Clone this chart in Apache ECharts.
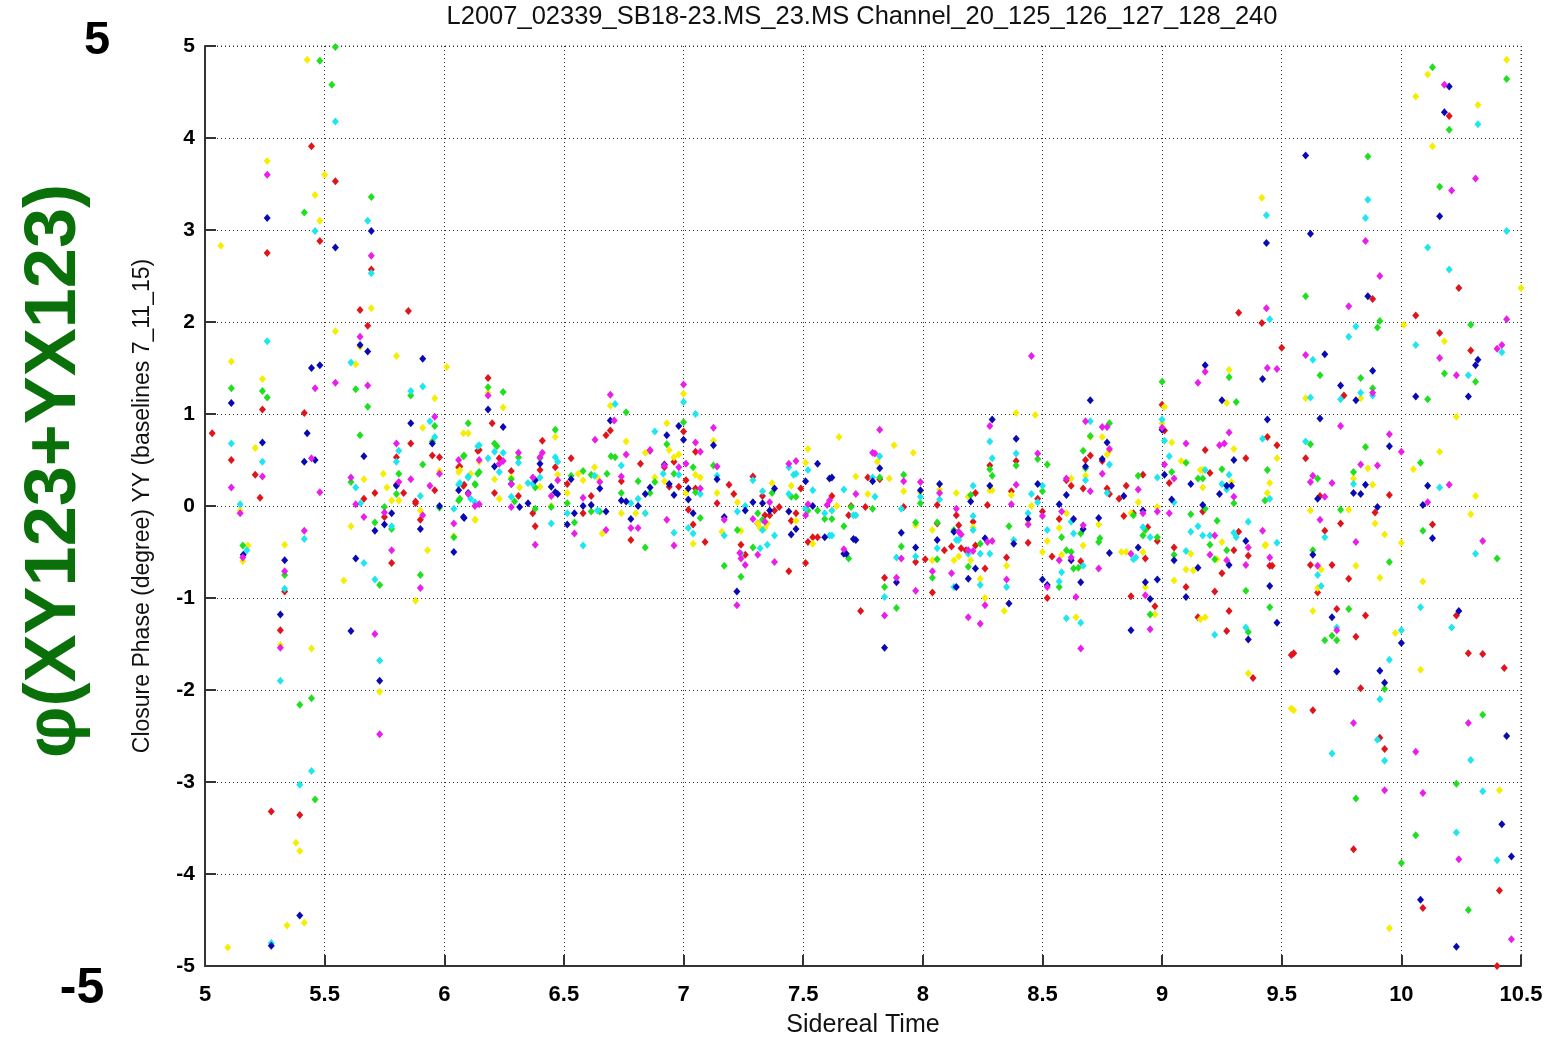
<!DOCTYPE html>
<html>
<head>
<meta charset="utf-8">
<script src="https://cdn.jsdelivr.net/npm/echarts@6/dist/echarts.min.js"></script>
<style>
html,body{margin:0;padding:0;background:#fff;overflow:hidden;}
#chart{width:1566px;height:1039px;}
</style>
</head>
<body>
<div id="chart"></div>
<script>
const chartTitle = "L2007_02339_SB18-23.MS_23.MS Channel_20_125_126_127_128_240";
const xAxisTitle = "Sidereal Time";
const yAxisTitle = "Closure Phase (degree) YY (baselines 7_11_15)";
const sideLabel = "\u03C6(XY123+YX123)";
const cornerTop = "5";
const cornerBottom = "-5";
const xRange = [5, 10.5, 0.5];
const yRange = [-5, 5, 1];

const redPts = [[5.03,0.79],[5.11,0.5],[5.21,0.34],[5.23,0.09],[5.24,1.05],[5.26,2.75],[5.277,-3.32],[5.315,-1.35],[5.333,-0.93],[5.396,-3.36],[5.415,1.01],[5.445,3.91],[5.48,2.88],[5.545,3.53],[5.648,2.13],[5.68,1.96],[5.695,2.57],[5.85,2.12],[5.664,0.08],[5.71,0.14],[5.8,0.23],[5.8,0.53],[5.86,0.68],[5.83,0.14],[5.88,0.03],[5.95,0.55],[5.98,0.53],[5.96,0.17],[5.75,-0.12],[5.88,0.05],[5.9,-0.15],[5.78,-0.62],[6.14,0.6],[6.06,0.42],[6.08,0.22],
[6.183,1.39],[6.2,0.9],[6.065,0.43],[6.083,0.23],[6.146,0.61],[6.21,0.14],[6.23,0.52],[6.28,0.38],[6.31,0.11],[6.41,0.71],[6.4,0.39],[6.37,-0.08],[6.38,-0.22],[6.464,0.42],[6.53,0.52],[6.514,0.24],[6.58,-0.08],[6.614,0.11],[6.676,0.77],[6.694,0.82],[6.74,0.27],[6.78,-0.37],[6.82,0.46],[6.86,0.6],[6.92,0.42],[6.94,0.21],[6.96,0.48],[6.98,0.21],[7.0,0.81],[7.01,0.28],[7.02,-0.04],[7.04,-0.2],[7.05,0.19],[7.05,0.59],[7.09,-0.39],[7.14,0.03],[7.19,0.23],[7.21,0.13],
[7.24,-0.42],[7.258,-0.53],[7.29,0.32],[7.31,-0.19],[7.34,-0.1],[7.36,-0.1],[7.38,-0.05],[7.4,-0.01],[7.33,0.11],[7.44,-0.71],[7.49,0.19],[7.45,-0.16],[7.47,-0.08],[7.52,-0.39],[7.54,-0.34],[7.56,-0.34],[7.51,-0.62],[7.62,0.11],[7.7,0],[7.69,-0.1],[7.82,0.29],[7.76,-0.01],[7.77,0.31],[7.92,-0.01],[7.84,-0.78],[7.74,-1.14],[7.97,-0.61],[8.01,-0.58],[8.06,0.01],[8.06,-0.19],[8.04,-0.94],[8.09,-0.48],[8.12,-0.44],[8.14,-0.1],[8.15,-0.21],[8.16,-0.46],[8.18,-0.48],[8.21,-0.17],[8.22,-0.43],[8.26,-0.68],[8.27,0.01],[8.28,0.44],[8.39,0.49],[8.37,0.16],[8.35,-0.56],[8.22,0.14],
[8.48,0.08],[8.5,-0.06],[8.44,-0.4],[8.54,-0.55],[8.52,-1.0],[8.57,-0.14],[8.66,-0.6],[8.6,0.28],[8.62,0.22],[8.67,0.19],[8.68,0.5],[8.7,0.55],[8.75,0.49],[8.77,0.19],[8.78,0.13],[8.84,-0.11],[8.82,0.08],[8.85,0.22],[8.88,-0.08],[8.92,0.34],[8.94,-0.23],[8.93,-0.57],[8.87,-0.98],[8.97,-1.09],[8.98,-0.38],[9.0,1.1],[9.01,0.82],[9.03,0.25],[9.05,-0.45],[9.1,-0.88],[9.15,-1.21],[9.18,0.61],[9.2,0.36],[9.17,-0.06],[9.22,-0.93],[9.25,-0.73],[9.3,-0.48],[9.28,-1.14],[9.27,-1.36],[9.35,0.52],[9.38,-1.87],[9.32,-0.28],[9.36,-0.54],[9.44,0.75],[9.48,0.66],[9.45,-0.65],[9.5,1.72],[9.32,2.1],
[10.2,4.24],[9.88,2.25],[10.24,2.37],[9.417,1.99],[10.06,2.07],[9.76,1.2],[10.16,1.88],[10.29,1.69],[9.6,0.52],[9.66,0.11],[9.95,0.12],
[9.89,-0.07],[9.78,-0.79],[9.746,-0.19],[9.68,-0.27],[9.62,-0.64],[9.71,-0.64],[9.65,-0.94],[9.46,-0.65],[10.13,-0.2],[9.73,-1.12],[9.85,-1.19],[9.81,-1.42],[9.54,-1.62],[9.55,-1.6],[9.83,-1.98],[10.23,-1.19],[10.28,-1.6],[10.34,-1.61],[10.43,-1.76],[9.63,-2.22],[9.91,-2.52],[9.93,-2.64],[9.8,-3.73],[10.41,-4.18],[10.09,-4.37],[10.4,-5.0]];

const yellowPts = [[5.066,2.83],[5.095,-4.8],[5.11,1.57],[5.147,-0.05],[5.158,-0.6],[5.18,-0.43],[5.21,0.63],[5.24,1.38],[5.26,3.75],[5.315,-1.51],[5.333,-0.42],[5.343,-4.56],[5.38,-3.66],[5.396,-3.75],[5.415,-4.53],[5.427,4.85],[5.445,-1.55],[5.46,3.38],[5.48,3.1],[5.5,3.6],[5.545,1.9],[5.58,-0.81],[5.61,-0.22],[5.63,1.54],[5.648,1.73],[5.664,0.29],[5.695,2.15],[5.745,0.35],[5.73,-2.02],[5.76,0.2],[5.78,0.06],[5.81,0.06],[5.8,1.63],[5.88,-1.03],[5.9,-0.05],[5.91,0.85],[5.93,-0.48],[5.96,1.17],[5.98,0.38],[6.01,1.51],[6.04,-0.33],[6.08,0.79],[6.1,0.79],[6.13,-0.15],[6.06,0.37],[6.11,0.35],
[6.065,0.39],[6.146,0.48],[6.128,-0.15],[6.183,1.23],[6.246,1.07],[6.21,0.29],[6.23,0.08],[6.28,0.31],[6.315,0.2],[6.4,0.21],[6.464,0.75],[6.474,0.34],[6.447,0.0],[6.514,0.14],[6.56,0.35],[6.58,0.28],[6.628,0.42],[6.614,0.01],[6.64,0.31],[6.66,-0.3],[6.694,1.09],[6.76,0.7],[6.74,-0.08],[6.8,-0.08],[6.84,0.58],[6.88,0.31],[6.84,-0.08],[6.93,0.9],[6.94,0.61],[6.92,0.27],[6.96,0.53],[6.98,0.56],[7.0,1.22],[7.01,0.14],[7.04,-0.41],[7.05,0.34],[7.07,0.31],[7.125,0.71],[7.14,0.14],[7.16,-0.28],[7.225,0.04],
[7.24,-0.27],[7.31,-0.19],[7.32,-0.24],[7.34,-0.24],[7.35,-0.19],[7.37,0.25],[7.45,0.22],[7.47,-0.16],[7.51,0.47],[7.52,0.62],[7.54,-0.41],[7.64,0],[7.62,-0.05],[7.72,0.32],[7.65,0.75],[7.88,0.66],[7.96,0.58],[7.81,0.48],[7.86,0.3],[7.77,0.13],[7.92,0.16],[7.97,-0.21],[7.99,0.15],[8.07,0.18],[8.14,0.14],[8.19,0.1],[8.04,-0.26],[8.04,-0.59],[8.13,-0.59],[8.15,-0.55],[8.2,-0.59],[8.21,-0.23],[8.24,-0.79],[8.26,-1.0],[8.28,0.17],[8.29,0.17],[8.39,1.01],[8.37,0.12],[8.35,-0.65],[8.34,-1.14],
[8.47,0.99],[8.454,0],[8.44,-0.19],[8.52,-0.38],[8.5,-0.5],[8.6,-0.08],[8.57,-0.24],[8.58,-0.53],[8.62,0.3],[8.68,0.33],[8.7,0.75],[8.735,-0.2],[8.75,0.75],[8.77,0.56],[8.78,0.6],[8.67,-0.43],[8.64,-1.21],[8.83,-0.5],[8.85,-0.5],[8.87,-0.08],[8.9,0.04],[8.92,-0.5],[8.93,-0.88],[8.97,-1.18],[8.98,-0.01],[9.01,1.08],[9.0,0.9],[9.04,0.69],[9.08,0.49],[9.05,-0.81],[9.1,-0.69],[9.12,-0.52],[9.13,-0.7],[9.16,-1.23],[9.18,-1.21],[9.16,0.39],[9.17,0.39],[9.17,0.2],[9.23,-0.58],[9.27,1.12],[9.28,1.48],[9.25,-0.39],[9.3,0.62],[9.29,0.26],[9.36,-1.82],[9.48,0.52],[9.45,0.25],[9.44,0.14],[9.43,-0.43],
[10.11,4.69],[10.06,4.45],[10.44,4.85],[10.32,4.36],[10.13,3.91],[9.417,3.35],[10.5,2.37],[10.01,1.97],[10.18,1.79],[9.83,1.17],[9.6,1.17],[10.23,0.97],[9.86,0.41],[9.8,0.3],[9.88,0.23],[10.05,0.4],[10.16,0.59],[10.31,0.11],[9.78,-0.04],[9.62,-0.05],
[9.89,-0.19],[9.93,-0.31],[10.0,-0.4],[9.91,-0.78],[9.81,-0.65],[9.665,-0.69],[9.65,-0.89],[9.433,-0.42],[10.29,-0.09],[10.09,-0.82],[9.63,-1.14],[9.975,-1.38],[10.08,-1.78],[9.54,-2.2],[9.55,-2.22],[10.41,-3.09],[9.95,-4.59]];

const greenPts = [[5.11,1.28],[5.158,-0.43],[5.24,1.25],[5.26,1.18],[5.333,-0.75],[5.396,-2.16],[5.415,3.19],[5.445,-2.09],[5.46,-3.19],[5.48,4.84],[5.53,4.58],[5.545,4.99],[5.61,0.26],[5.63,1.27],[5.648,0.77],[5.68,1.08],[5.695,3.36],[5.71,-0.18],[5.73,-0.86],[5.75,-0.01],[5.78,-0.25],[5.8,0.13],[5.81,0.35],[5.86,1.2],[5.9,-0.75],[5.91,0.45],[5.95,0.7],[5.96,0.87],[5.98,-0.02],[6.04,-0.34],[6.1,0.9],[6.08,0.54],[6.14,0.35],[6.13,0.23],[6.06,0.06],
[6.083,0.55],[6.065,0.08],[6.128,0.24],[6.146,0.37],[6.183,1.29],[6.246,1.24],[6.21,0.68],[6.22,0.65],[6.28,0.29],[6.294,0.05],[6.31,0.53],[6.38,0.2],[6.38,-0.03],[6.4,0.52],[6.464,0.83],[6.447,-0.01],[6.53,0.33],[6.514,0.03],[6.544,-0.18],[6.58,0.38],[6.614,0.34],[6.614,-0.06],[6.65,-0.06],[6.68,0.35],[6.697,0.54],[6.714,0.53],[6.76,1.02],[6.74,0.14],[6.81,0.27],[6.88,0.26],[6.86,0.14],[6.84,-0.45],[6.93,0.67],[6.96,0.35],[7.0,0.91],[7.04,0.42],[7.05,0.15],[7.07,-0.13],[7.125,0.44],[7.225,-0.26],
[7.17,-0.65],[7.24,-0.77],[7.31,-0.08],[7.29,-0.45],[7.33,-0.15],[7.37,0.14],[7.45,0.1],[7.47,0.1],[7.52,-0.05],[7.56,-0.05],[7.59,-0.14],[7.62,-0.14],[7.7,-0.01],[7.67,-0.22],[7.69,-0.57],[7.82,0.31],[7.79,-0.03],[7.92,0.34],[7.91,-0.44],[7.84,-0.88],[7.89,-1.11],[7.99,0.03],[7.97,-0.18],[8.06,-0.18],[8.04,-0.78],[8.06,-0.58],[8.13,-0.26],[8.19,-0.66],[8.2,0.12],[8.24,-0.41],[8.29,0.33],[8.28,0.4],[8.39,0.44],[8.36,-0.22],
[8.48,0.51],[8.52,0.45],[8.5,0.16],[8.58,-0.34],[8.6,-0.48],[8.62,-0.5],[8.57,-0.88],[8.63,-0.68],[8.65,-0.67],[8.66,-0.3],[8.67,0.6],[8.68,0.41],[8.7,0.76],[8.735,-0.39],[8.74,-0.35],[8.78,0.9],[8.88,-0.1],[8.9,0.33],[8.93,-0.26],[8.92,-0.32],[8.95,-1.18],[8.98,-0.34],[9.0,1.35],[9.04,0.37],[9.05,-0.53],[9.1,0.47],[9.12,-0.09],[9.15,0.3],[9.17,0.3],[9.18,-0.03],[9.2,-0.42],[9.22,-0.58],[9.23,-0.16],[9.25,0.4],[9.28,1.4],[9.3,0.03],[9.27,-0.48],[9.31,1.13],[9.35,-0.92],[9.36,-1.37],[9.44,0.39],[9.43,0.06],[9.45,-1.1],
[10.13,4.77],[10.44,4.64],[10.2,4.09],[9.86,3.8],[10.16,3.47],[9.6,2.28],[10.29,1.97],[9.91,2.01],[9.9,1.94],[9.66,1.42],[9.83,1.39],[9.88,1.28],[10.18,1.44],[10.31,1.35],[10.11,1.16],[9.62,0.67],[9.85,0.64],[9.8,0.37],[9.65,0.3],[9.746,-0.04],[10.08,0.47],
[9.95,-0.61],[9.63,-0.48],[10.09,-0.27],[10.4,-0.57],[9.78,-1.12],[9.71,-1.41],[9.68,-1.46],[9.73,-1.46],[9.93,-1.99],[10.34,-2.27],[9.81,-3.18],[10.0,-3.88],[10.23,-3.02],[10.06,-3.58],[10.28,-4.39]];

const cyanPts = [[5.11,0.68],[5.147,0.02],[5.175,-0.48],[5.24,0.48],[5.26,1.79],[5.277,-4.75],[5.315,-1.9],[5.333,-0.9],[5.396,-3.03],[5.415,-0.36],[5.445,-2.88],[5.46,2.99],[5.545,4.18],[5.61,1.56],[5.63,0.2],[5.65,0.03],[5.664,-0.62],[5.68,3.1],[5.695,2.53],[5.71,-0.8],[5.73,-1.68],[5.78,-0.22],[5.8,0.48],[5.81,0.6],[5.86,1.25],[5.9,0.11],[5.91,1.3],[5.94,0.92],[5.96,0.75],[6.04,-0.03],[6.14,0.65],[6.1,0.31],[6.06,0.23],
[6.065,0.25],[6.1,0.32],[6.146,0.66],[6.11,0.08],[6.128,0.04],[6.183,0.52],[6.21,0.59],[6.23,0.37],[6.246,0.58],[6.31,0.47],[6.28,0.1],[6.4,0.31],[6.37,0.24],[6.35,0.25],[6.464,0.53],[6.474,0.48],[6.447,-0.19],[6.514,-0.08],[6.58,-0.43],[6.628,0.33],[6.64,-0.05],[6.714,1.11],[6.74,0.44],[6.78,0.03],[6.81,0.08],[6.84,-0.08],[6.88,0.81],[6.915,0.35],[6.96,-0.29],[6.98,0.34],[7.0,1.13],[7.02,-0.24],[7.04,-0.3],[7.05,1.0],[7.07,0.13],[7.14,0.33],[7.17,-0.32],[7.225,-0.06],
[7.258,0],[7.24,-0.52],[7.29,0.28],[7.32,-0.46],[7.33,0.16],[7.33,-0.26],[7.35,-0.42],[7.44,0.42],[7.47,0.35],[7.46,0.34],[7.44,0.13],[7.38,-0.32],[7.52,0.39],[7.54,0.17],[7.51,-0.03],[7.59,-0.08],[7.62,-0.05],[7.61,-0.32],[7.62,-0.32],[7.67,0.18],[7.71,-0.1],[7.72,-0.1],[7.8,0.1],[7.82,0.54],[7.79,0.31],[7.91,-0.03],[7.89,-0.56],[7.84,-0.99],[7.99,0.1],[7.97,-0.55],[8.07,0.07],[8.21,0.22],[8.06,-0.46],[8.14,-0.37],[8.15,-0.37],[8.13,-0.88],[8.19,-0.52],[8.21,-0.11],[8.21,-0.26],[8.24,-0.86],[8.24,-0.52],[8.28,-0.52],[8.29,0.52],[8.28,0.7],[8.39,0.57],[8.38,-0.37],[8.35,-0.88],
[8.5,0.22],[8.454,0.13],[8.48,0.04],[8.44,-0.08],[8.52,-0.26],[8.58,-0.72],[8.57,-0.82],[8.67,-0.65],[8.63,-0.3],[8.62,-0.17],[8.6,-1.22],[8.66,-1.27],[8.7,0.92],[8.68,0.28],[8.78,0.45],[8.77,0.14],[8.92,-0.23],[8.88,-0.58],[8.89,-0.56],[8.95,-0.34],[8.98,0.31],[9.0,0.94],[9.01,0.71],[9.03,0.54],[9.05,0.04],[9.1,-0.49],[9.12,-0.28],[9.15,-0.22],[9.17,-0.32],[9.2,-0.32],[9.18,0.39],[9.22,-1.4],[9.25,0.24],[9.28,0.34],[9.27,0.18],[9.3,-0.29],[9.31,-0.34],[9.36,-0.17],[9.35,-1.32],[9.42,0.73],[9.45,0.08],[9.48,-0.4],
[10.32,4.15],[9.436,3.16],[9.86,3.33],[9.85,3.13],[10.44,2.99],[10.11,2.81],[10.2,2.57],[9.45,2.03],[9.81,1.95],[9.78,1.84],[10.06,1.75],[10.42,1.67],[9.63,1.59],[9.746,1.16],[9.83,1.23],[9.88,1.2],[9.62,1.18],[10.28,1.42],[9.6,0.7],[9.8,0.24],[10.16,0.2],
[9.68,-0.34],[9.65,-0.75],[9.665,-0.87],[10.31,-0.52],[9.73,-1.32],[10.08,-1.1],[10.21,-1.32],[10.0,-1.35],[9.95,-1.67],[9.91,-2.1],[9.9,-2.54],[9.71,-2.69],[9.93,-2.77],[10.29,-2.76],[10.34,-3.1],[10.23,-3.55],[10.4,-3.85]];

const bluePts = [[5.11,1.12],[5.16,-0.53],[5.24,0.69],[5.26,3.13],[5.277,-4.78],[5.315,-1.18],[5.333,-0.59],[5.396,-4.45],[5.415,0.48],[5.427,0.79],[5.445,1.5],[5.46,0.5],[5.48,1.53],[5.545,2.81],[5.61,-1.36],[5.63,-0.57],[5.648,1.75],[5.664,0.54],[5.68,1.68],[5.695,2.99],[5.71,-0.27],[5.73,-1.9],[5.75,-0.2],[5.78,-0.08],[5.8,0.22],[5.86,0.9],[5.9,-0.25],[5.91,1.6],[5.95,0.68],[5.98,0.0],[6.04,-0.5],[6.08,-0.12],[6.06,0.17],
[6.1,0.14],[6.083,-0.13],[6.183,1.05],[6.246,0.86],[6.21,0.43],[6.28,0.24],[6.315,-0.01],[6.4,0.46],[6.38,0.28],[6.35,0.03],[6.447,0.21],[6.464,0.15],[6.474,0.13],[6.53,0.29],[6.514,-0.2],[6.544,-0.08],[6.58,0],[6.614,0.01],[6.65,0.19],[6.676,-0.06],[6.694,0.93],[6.74,0.06],[6.76,0.05],[6.78,-0.14],[6.81,0],[6.86,0.2],[6.84,0.13],[6.93,0.77],[6.92,0.45],[6.94,0.24],[6.96,0.12],[6.98,0.87],[7.0,0.72],[7.02,0.07],[7.04,-0.08],[7.02,0.19],[7.125,0.66],[7.14,0.29],[7.17,-0.12],
[7.258,-0.05],[7.29,0.04],[7.33,0.03],[7.38,0.19],[7.36,-0.05],[7.223,-0.93],[7.44,-0.06],[7.47,-0.25],[7.45,-0.31],[7.51,0.27],[7.56,0.46],[7.54,0],[7.59,-0.34],[7.61,0.3],[7.62,0.31],[7.71,-0.36],[7.72,-0.37],[7.67,-0.52],[7.68,-0.52],[7.82,0.41],[7.79,0.27],[7.91,-0.29],[7.89,-0.83],[7.84,-1.54],[7.99,0.17],[7.97,-0.45],[8.07,0.24],[8.2,0.05],[8.06,-0.37],[8.13,-0.28],[8.14,-0.88],[8.19,-0.79],[8.22,-0.68],[8.26,-0.35],[8.28,0.22],[8.29,0.94],[8.39,0.73],[8.38,-0.41],[8.36,-1.06],
[8.48,0.24],[8.44,-0.14],[8.5,-0.8],[8.52,-0.86],[8.57,0.02],[8.62,-0.59],[8.63,-0.14],[8.67,-0.25],[8.66,-0.83],[8.6,0.12],[8.68,0.43],[8.7,1.15],[8.735,-0.13],[8.75,0.51],[8.77,0.69],[8.78,-0.51],[8.84,0.11],[8.92,-0.05],[8.9,-0.45],[8.93,-0.83],[8.95,-1.01],[8.87,-1.35],[8.98,-0.8],[9.0,0.83],[9.01,0.34],[9.04,0.07],[9.05,-0.59],[9.1,-0.99],[9.12,0.24],[9.15,-0.67],[9.18,1.53],[9.17,0.01],[9.24,0.13],[9.25,1.15],[9.27,0.22],[9.29,0.22],[9.28,-0.64],[9.3,0.5],[9.35,-0.38],[9.36,-1.45],[9.42,1.38],[9.44,0.94],[9.45,-0.87],[9.48,-1.27],
[10.2,4.56],[10.18,4.28],[9.6,3.81],[10.16,3.15],[9.62,2.96],[9.436,2.86],[9.86,2.28],[9.68,1.65],[10.32,1.59],[10.31,1.53],[9.88,1.47],[9.746,1.31],[9.81,1.15],[10.06,1.19],[10.28,1.19],[9.66,0.95],[9.95,0.65],[9.85,0.23],[9.8,0.14],[9.83,0.13],[9.65,0.08],[9.9,-0.01],[10.11,0.22],[10.09,0.01],
[9.63,-0.53],[10.13,-0.35],[9.71,-1.21],[9.73,-1.8],[10.0,-1.49],[9.91,-1.79],[9.93,-1.92],[10.24,-1.14],[10.44,-2.5],[10.42,-3.46],[10.46,-3.81],[10.08,-4.28],[10.23,-4.79]];

const magentaPts = [[5.11,0.2],[5.158,-0.56],[5.147,-0.08],[5.24,0.32],[5.26,3.6],[5.315,-1.54],[5.333,-0.71],[5.415,-0.27],[5.445,0.52],[5.46,1.28],[5.48,0.15],[5.545,1.34],[5.61,0.31],[5.63,0.02],[5.648,1.84],[5.664,-0.12],[5.68,1.31],[5.695,2.72],[5.71,-1.39],[5.73,-2.48],[5.75,-0.07],[5.78,-0.48],[5.8,0.68],[5.81,0.26],[5.86,0.29],[5.9,-0.89],[5.91,-0.1],[5.94,0.22],[5.96,0.97],[5.98,0.35],[6.04,-0.19],[6.06,0.5],[6.1,0.13],
[6.146,0.5],[6.128,0],[6.146,0.02],[6.183,1.2],[6.23,0.46],[6.246,0.49],[6.31,0.58],[6.28,0.24],[6.28,-0.01],[6.41,0.58],[6.4,0.53],[6.37,0.31],[6.38,-0.42],[6.474,0.28],[6.447,0.11],[6.544,-0.3],[6.58,0.09],[6.65,0.26],[6.676,-0.26],[6.63,0.72],[6.694,1.21],[6.71,0.93],[6.76,0.56],[6.74,0.32],[6.78,-0.24],[6.81,-0.24],[6.86,0.61],[6.93,-0.15],[6.96,-0.43],[6.98,0.42],[6.92,0.44],[7.0,1.32],[7.01,0.46],[7.07,0.19],[7.07,0.59],[7.05,0.69],[7.125,0.85],[7.14,0.43],[7.17,-0.15],[7.235,-0.51],
[7.24,-0.57],[7.223,-1.08],[7.258,-0.64],[7.29,-0.14],[7.31,-0.53],[7.34,-0.17],[7.36,0.04],[7.38,-0.61],[7.44,0.46],[7.47,0.49],[7.52,0.02],[7.51,-0.1],[7.6,0.01],[7.61,0.06],[7.72,0.13],[7.67,-0.47],[7.82,0.83],[7.79,0.58],[7.8,0.57],[7.92,0.27],[7.91,-0.57],[7.89,-0.78],[7.84,-1.19],[7.99,0.26],[7.97,-0.92],[8.07,0.14],[8.04,-0.71],[8.14,-0.03],[8.15,-0.28],[8.16,-0.31],[8.12,-0.73],[8.19,-0.48],[8.21,-0.49],[8.19,-1.21],[8.26,-1.08],[8.24,-1.28],[8.27,-0.39],[8.29,-0.38],[8.28,0.87],[8.39,0.23],[8.37,0.02],[8.35,-0.8],
[8.454,1.63],[8.48,0.57],[8.5,-0.11],[8.44,-0.2],[8.52,-0.88],[8.58,-0.06],[8.57,-0.59],[8.62,-0.56],[8.67,-0.21],[8.64,-0.99],[8.66,-1.55],[8.6,0.3],[8.68,0.92],[8.7,0.16],[8.735,-0.68],[8.75,0.86],[8.77,0.86],[8.75,0.35],[8.78,0.62],[8.9,0.18],[8.92,-0.08],[8.87,-0.52],[8.93,-0.97],[8.95,-1.34],[8.98,-0.06],[9.0,0.85],[9.01,0.45],[9.05,0.3],[9.03,-0.08],[9.1,0.68],[9.15,1.34],[9.18,1.46],[9.2,-0.53],[9.22,-0.32],[9.24,0.66],[9.26,0.68],[9.28,0.8],[9.3,0.1],[9.27,-0.59],[9.36,-0.45],[9.35,-0.64],[9.44,1.5],[9.48,1.49],[9.42,-0.27],[9.45,-0.56],
[10.18,4.58],[10.21,3.43],[10.31,3.56],[9.85,2.88],[9.91,2.5],[9.78,2.17],[9.436,2.15],[10.44,2.03],[9.6,1.64],[10.4,1.71],[10.42,1.75],[10.16,1.61],[10.23,1.42],[9.88,1.23],[9.746,0.87],[9.95,0.78],[10.0,0.59],[9.83,0.45],[9.9,0.44],[9.63,0.33],[9.62,0.26],[9.71,0.25],[9.68,0.1],[10.2,0.23],[10.11,0.04],
[9.66,-0.15],[9.81,-0.39],[9.65,-0.65],[10.34,-0.38],[9.73,-1.35],[9.8,-2.36],[10.28,-2.36],[10.06,-2.67],[9.93,-3.09],[10.09,-3.12],[10.24,-3.84],[10.46,-4.71]];

const seriesDefs = [
  {name: 'red', color: '#e0141a', data: redPts},
  {name: 'yellow', color: '#f5ee00', data: yellowPts},
  {name: 'green', color: '#1ee01e', data: greenPts},
  {name: 'cyan', color: '#1ee6ee', data: cyanPts},
  {name: 'blue', color: '#0a0ab4', data: bluePts},
  {name: 'magenta', color: '#ea1eea', data: magentaPts}
];

const chart = echarts.init(document.getElementById('chart'), null, {renderer: 'canvas', width: 1566, height: 1039});
const dotted = {show: true, lineStyle: {color: '#333', type: [1, 3], width: 1}};
const option = {
  backgroundColor: '#ffffff',
  animation: false,
  grid: {left: 205, right: 45, top: 46, bottom: 73, containLabel: false, outerBoundsMode: 'none'},
  xAxis: {
    type: 'value', min: xRange[0], max: xRange[1], interval: xRange[2],
    name: xAxisTitle, nameLocation: 'middle', nameGap: 47,
    nameTextStyle: {fontFamily: 'Liberation Sans', fontSize: 25, color: '#111'},
    axisLine: {show: true, onZero: false, lineStyle: {color: '#333', width: 2}},
    axisTick: {show: true, inside: true, length: 11, lineStyle: {color: '#333', width: 2}},
    axisLabel: {fontFamily: 'Liberation Sans', fontSize: 22, fontWeight: 'bold', color: '#000', margin: 18},
    splitLine: dotted
  },
  yAxis: {
    type: 'value', min: yRange[0], max: yRange[1], interval: yRange[2],
    name: yAxisTitle, nameLocation: 'middle', nameGap: 51, nameRotate: 90,
    nameTextStyle: {fontFamily: 'Liberation Sans', fontSize: 23, color: '#111'},
    axisLine: {show: true, onZero: false, lineStyle: {color: '#333', width: 2}},
    axisTick: {show: true, inside: true, length: 11, lineStyle: {color: '#333', width: 2}},
    axisLabel: {fontFamily: 'Liberation Sans', fontSize: 21, fontWeight: 'bold', color: '#000', margin: 10},
    splitLine: dotted
  },
  graphic: [
    {type: 'rect', shape: {x: 205, y: 46, width: 1316, height: 920}, silent: true, z: -1,
     style: {fill: 'none', stroke: '#333', lineWidth: 1, lineDash: [1, 3]}},
    {type: 'text', x: 862, y: 17, style: {text: chartTitle, font: '25.5px "Liberation Sans"', fill: '#111', align: 'center', verticalAlign: 'middle'}},
    {type: 'text', x: 55, y: 471, rotation: Math.PI / 2, style: {text: sideLabel, font: 'bold 72px "Liberation Sans"', fill: '#0a700a', align: 'center', verticalAlign: 'middle'}},
    {type: 'text', x: 97, y: 41, style: {text: cornerTop, font: 'bold 47px "Liberation Sans"', fill: '#000', align: 'center', verticalAlign: 'middle'}},
    {type: 'text', x: 82, y: 989, style: {text: cornerBottom, font: 'bold 50px "Liberation Sans"', fill: '#000', align: 'center', verticalAlign: 'middle'}}
  ],
  series: seriesDefs.map(s => ({
    name: s.name, type: 'scatter', data: s.data, symbol: 'diamond', symbolSize: [7, 8],
    itemStyle: {color: s.color, opacity: 1}, clip: false, z: 3
  }))
};
chart.setOption(option);
</script>
</body>
</html>
